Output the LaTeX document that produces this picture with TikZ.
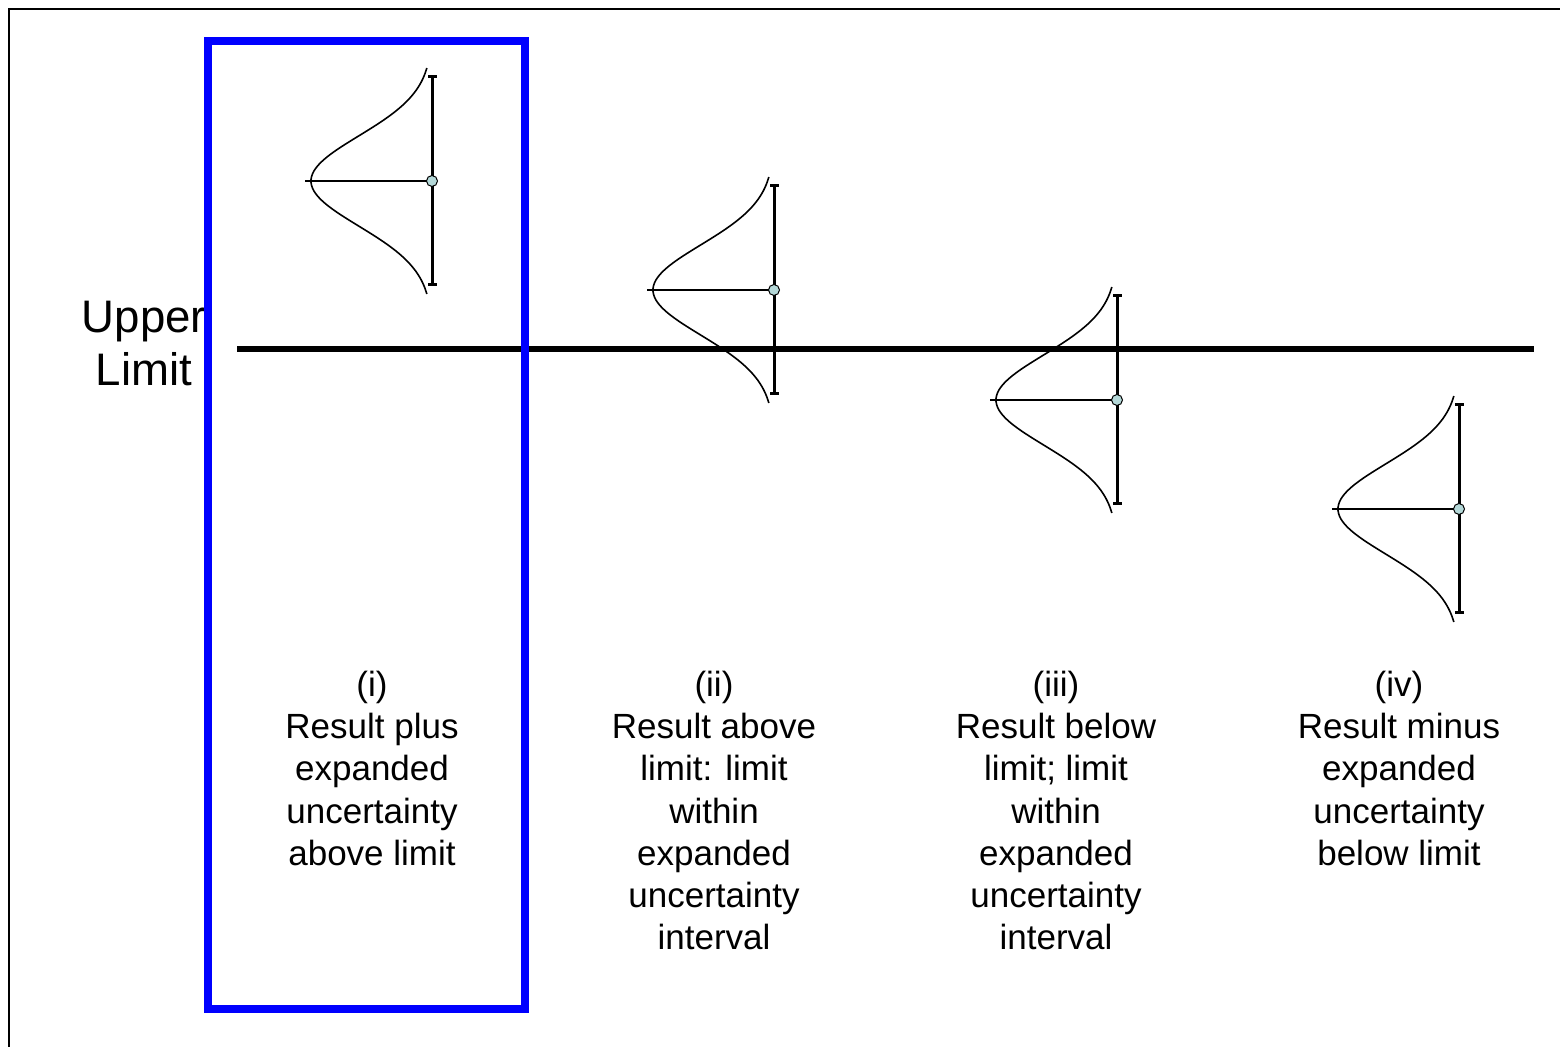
\documentclass[tikz,border=0pt]{standalone}
\usepackage{fontspec}
\setmainfont{Liberation Sans}
\usetikzlibrary{calc, positioning}
\definecolor{meanfill}{RGB}{180,216,216}
\newcommand{\labfont}{\fontsize{17.5}{21.05}\selectfont}
\newcommand{\limfont}{\fontsize{22.8}{26.2}\selectfont}

\begin{document}
\begin{tikzpicture}[x=0.5pt, y=-0.5pt,
  gauss/.style={line width=0.8pt},
  errbar/.style={line width=1.5pt},
  meanline/.style={line width=0.6pt},
  meanpt/.style={circle, draw, line width=0.5pt, fill=meanfill, inner sep=0pt, minimum size=5.5pt},
  caselabel/.style={align=center, anchor=north, inner sep=0pt, font=\labfont}]
\useasboundingbox (0,0) rectangle (1560,1047);
% frame
\draw[line width=1pt] (9,1060) -- (9,9) -- (1570,9);
% limit
\node[align=center, anchor=north, inner sep=0pt, font=\limfont] (uplim) at (144,301) {Upper\\Limit};
\draw[line width=3pt] (237,349) -- (1534,349);
% i
\begin{scope}[shift={(432,181)}]
\coordinate (m1) at (0,0);
\coordinate (t1) at (0,-104);
\coordinate (b1) at (0,104);
\draw[gauss] plot[domain=-113:113, samples=80, smooth] ({-121*exp(-((\x/45)^2)/2)}, \x);
\draw[meanline] (-127,0) -- (m1);
\draw[errbar] (t1) -- (b1);
\draw[errbar] ($(t1)+(-4,0)$) -- ($(t1)+(5,0)$);
\draw[errbar] ($(b1)+(-4,0)$) -- ($(b1)+(5,0)$);
\node[meanpt] (p1) at (m1) {};
\end{scope}
% ii
\begin{scope}[shift={(774,290)}]
\coordinate (m2) at (0,0);
\coordinate (t2) at (0,-104);
\coordinate (b2) at (0,104);
\draw[gauss] plot[domain=-113:113, samples=80, smooth] ({-121*exp(-((\x/45)^2)/2)}, \x);
\draw[meanline] (-127,0) -- (m2);
\draw[errbar] (t2) -- (b2);
\draw[errbar] ($(t2)+(-4,0)$) -- ($(t2)+(5,0)$);
\draw[errbar] ($(b2)+(-4,0)$) -- ($(b2)+(5,0)$);
\node[meanpt] (p2) at (m2) {};
\end{scope}
% iii
\begin{scope}[shift={(1117,400)}]
\coordinate (m3) at (0,0);
\coordinate (t3) at (0,-104);
\coordinate (b3) at (0,104);
\draw[gauss] plot[domain=-113:113, samples=80, smooth] ({-121*exp(-((\x/45)^2)/2)}, \x);
\draw[meanline] (-127,0) -- (m3);
\draw[errbar] (t3) -- (b3);
\draw[errbar] ($(t3)+(-4,0)$) -- ($(t3)+(5,0)$);
\draw[errbar] ($(b3)+(-4,0)$) -- ($(b3)+(5,0)$);
\node[meanpt] (p3) at (m3) {};
\end{scope}
% iv
\begin{scope}[shift={(1459,509)}]
\coordinate (m4) at (0,0);
\coordinate (t4) at (0,-104);
\coordinate (b4) at (0,104);
\draw[gauss] plot[domain=-113:113, samples=80, smooth] ({-121*exp(-((\x/45)^2)/2)}, \x);
\draw[meanline] (-127,0) -- (m4);
\draw[errbar] (t4) -- (b4);
\draw[errbar] ($(t4)+(-4,0)$) -- ($(t4)+(5,0)$);
\draw[errbar] ($(b4)+(-4,0)$) -- ($(b4)+(5,0)$);
\node[meanpt] (p4) at (m4) {};
\end{scope}
% labels
\node[caselabel] (lab1) at (372,671) {(i)\\Result plus\\expanded\\uncertainty\\above limit};
\node[caselabel] (lab2) at (714,671) {(ii)\\Result above\\limit: limit\\within\\expanded\\uncertainty\\interval};
\node[caselabel] (lab3) at (1056,671) {(iii)\\Result below\\limit; limit\\within\\expanded\\uncertainty\\interval};
\node[caselabel] (lab4) at (1399,671) {(iv)\\Result minus\\expanded\\uncertainty\\below limit};
% highlight
\draw[blue, line width=4pt] (208,41) rectangle (525,1009);
\end{tikzpicture}
\end{document}
